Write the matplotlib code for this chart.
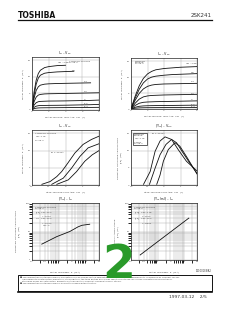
import numpy as np
import matplotlib
matplotlib.use("Agg")
import matplotlib.pyplot as plt

# ---- data ----
# ID - VDS (left, high gm rank)
vds_a = [0, 0.25, 0.5, 0.75, 1, 1.5, 2, 3, 4, 5, 6, 7, 8]
id_a = {
    "V$_{GS}$=0.8V": [0, 5.5, 9.0, 11.0, 12.0, 12.8, 13.1, 13.4, 13.5],
    "0.6": [0, 4.5, 7.8, 9.6, 10.5, 11.1, 11.3, 11.5, 11.6, 11.7],
    "0.4": [0, 3.6, 5.9, 7.0, 7.5, 7.8, 7.9, 8.0, 8.05, 8.1, 8.15, 8.2],
    "0.2": [0, 2.5, 3.9, 4.5, 4.7, 4.85, 4.9, 4.95, 5.0, 5.05, 5.1, 5.15, 5.2],
    "0": [0, 1.5, 2.2, 2.5, 2.6, 2.65, 2.7, 2.72, 2.75, 2.8, 2.85, 2.9, 3.0],
    "-0.2": [0, 0.8, 1.15, 1.3, 1.35, 1.38, 1.4, 1.42, 1.45, 1.5, 1.55, 1.6, 1.7],
    "-0.4": [0, 0.4, 0.55, 0.62, 0.65, 0.67, 0.68, 0.7, 0.72, 0.74, 0.76, 0.78, 0.8],
}
lab_a = [(3.0, 14.0), (4.7, 11.9), (6.2, 8.6), (6.2, 5.6), (6.2, 3.3), (6.2, 1.9), (6.2, 1.0)]

# ID - VDS (right, low gm rank)
vds_b = [0, 0.5, 1, 1.5, 2, 2.5, 3, 4, 5, 6, 7, 8]
id_b = {
    "V$_{GS}$=0.8V": [0, 4.0, 7.3, 9.6, 11.0, 11.8, 12.3, 12.7, 12.9, 13.1, 13.2, 13.3],
    "0.6": [0, 3.4, 6.2, 8.2, 9.4, 10.0, 10.3, 10.6, 10.8, 10.9, 11.0, 11.1],
    "0.4": [0, 2.7, 4.9, 6.3, 7.1, 7.5, 7.7, 7.85, 7.9, 7.95, 8.0, 8.05],
    "0.2": [0, 1.8, 3.1, 3.8, 4.1, 4.25, 4.3, 4.4, 4.45, 4.5, 4.55, 4.6],
    "0": [0, 1.1, 1.8, 2.1, 2.2, 2.25, 2.3, 2.35, 2.4, 2.45, 2.5, 2.55],
    "-0.2": [0, 0.55, 0.85, 0.97, 1.02, 1.05, 1.07, 1.1, 1.12, 1.15, 1.18, 1.2],
    "-0.4": [0, 0.25, 0.35, 0.39, 0.41, 0.42, 0.43, 0.44, 0.45, 0.46, 0.47, 0.48],
}
lab_b = [(6.6, 13.9), (7.2, 11.6), (7.2, 8.5), (7.2, 5.0), (7.2, 2.9), (7.2, 1.5), (7.2, 0.8)]

# ID - VGS
vgs_c = [
    [-1.41, -0.92, -0.52, -0.23, 0.07, 0.56, 1.05, 1.55, 2.0],
    [-0.82, -0.13, 0.36, 0.86, 1.35, 2.0],
    [-0.52, 0.17, 0.66, 1.15, 1.6, 2.0],
]
id_c = [
    [0.2, 1.0, 2.45, 3.9, 5.9, 9.3, 11.8, 13.25, 14.2],
    [0.2, 2.0, 4.9, 8.3, 10.8, 12.0],
    [0.2, 1.5, 3.9, 6.9, 8.8, 10.0],
]

# |Yfs| - VGS
vgs_d = [
    [-1.24, -0.84, -0.54, -0.24, 0.06, 0.46, 0.86, 1.36, 2.0],
    [-0.88, -0.54, -0.24, 0.12, 0.46, 0.76, 1.16, 1.56, 2.0],
    [-0.44, -0.24, -0.04, 0.26, 0.66, 0.96, 1.36, 2.0],
]
yfs_d = [
    [0.2, 3.9, 9.8, 12.8, 14.0, 13.25, 10.3, 6.9, 4.1],
    [0.2, 4.9, 8.8, 11.8, 13.25, 12.3, 9.3, 6.4, 3.4],
    [0.2, 2.9, 6.9, 10.3, 12.3, 11.3, 8.3, 3.2],
]

# |Yfs| - ID (log-log)
id_e = [0.23, 0.82, 2.5, 5.0, 7.0, 13.6]
yfs_e = [3.6, 6.6, 10.0, 14.5, 16.5, 18.0]

# |Yos| - ID (log-log)
id_f = [0.22, 14.8]
yos_f = [1.5, 29.5]

W, H = 240, 310
fig = plt.figure(figsize=(W / 100, H / 100), dpi=100)
fig.patch.set_facecolor("white")

FS = 1.7
INK = "#222222"


def ax_at(l, t, r, b):
    ax = fig.add_axes([l / W, 1 - b / H, (r - l) / W, (b - t) / H])
    for s in ax.spines.values():
        s.set_linewidth(0.5)
        s.set_color(INK)
    ax.tick_params(length=0, labelsize=FS, pad=1.0, colors="#555555")
    ax.grid(True, which="both", color="#a8a8a8", lw=0.3)
    ax.set_axisbelow(True)
    return ax


def titles(ax, title, xl, yl):
    ax.set_title(title, fontsize=2.4, pad=1.2, color=INK)
    ax.set_xlabel(xl, fontsize=FS, labelpad=1.0, color="#444444")
    ax.set_ylabel(yl, fontsize=FS, labelpad=1.0, color="#444444",
                  linespacing=1.1)


def note(ax, x, y, lines, frame=False):
    t = ax.text(x, y, "\n".join(lines), fontsize=1.6, va="top", ha="left",
                color="#444444", linespacing=1.15, transform=ax.transAxes)
    if frame:
        t.set_bbox(dict(facecolor="white", edgecolor=INK, lw=0.5, pad=0.6))


# header
fig.text(18 / W, 1 - 15 / H, "TOSHIBA", fontsize=5.5, fontweight="bold",
         va="center", ha="left", color="#111111")
fig.text(212 / W, 1 - 15.5 / H, "2SK241", fontsize=4, va="center", ha="right",
         color="#333333")
fig.add_artist(plt.Line2D([18 / W, 212 / W], [1 - 19.5 / H, 1 - 19.5 / H],
                          lw=0.9, color="#111111"))

# plot 1
ax = ax_at(32, 57, 99, 110)
for (name, ys), (lx, ly) in zip(id_a.items(), lab_a):
    ax.plot(vds_a[:len(ys)], ys, color="#111111", lw=0.6)
    ax.text(lx, ly, name, fontsize=FS, color="#444444", va="center")
ax.set_xlim(0, 8)
ax.set_ylim(0, 16)
ax.set_xticks([0, 2, 4, 6, 8])
ax.set_yticks([0, 5, 10, 15])
titles(ax, "I$_D$ – V$_{DS}$", "DRAIN-SOURCE VOLTAGE  V$_{DS}$  (V)",
       "DRAIN CURRENT  I$_D$  (mA)")
note(ax, 0.55, 0.93, ["COMMON SOURCE", "Ta=25°C"])

# plot 2
ax = ax_at(131, 58, 197, 109)
for (name, ys), (lx, ly) in zip(id_b.items(), lab_b):
    ax.plot(vds_b, ys, color="#111111", lw=0.6)
    ax.text(lx, ly, name, fontsize=FS, color="#444444", va="center")
ax.set_xlim(0, 8)
ax.set_ylim(0, 16)
ax.set_xticks([0, 2, 4, 6, 8])
ax.set_yticks([0, 5, 10, 15])
titles(ax, "I$_D$ – V$_{DS}$", "DRAIN-SOURCE VOLTAGE  V$_{DS}$  (V)",
       "DRAIN CURRENT  I$_D$  (mA)")
note(ax, 0.06, 0.94, ["COMMON", "SOURCE", "Ta=25°C"])

# plot 3
ax = ax_at(32, 130, 99, 185)
for xs, ys in zip(vgs_c, id_c):
    ax.plot(xs, ys, color="#111111", lw=0.6)
ax.set_xlim(-2, 2)
ax.set_ylim(0, 16)
ax.set_xticks([-2, -1, 0, 1, 2])
ax.set_yticks([0, 5, 10, 15])
titles(ax, "I$_D$ – V$_{GS}$", "GATE-SOURCE VOLTAGE  V$_{GS}$  (V)",
       "DRAIN CURRENT  I$_D$  (mA)")
note(ax, 0.04, 0.95, ["COMMON SOURCE", "V$_{DS}$=10V", "Ta=25°C"])
ax.text(-0.9, 9.0, "I$_{DSS}$=10mA", fontsize=FS, color="#444444")

# plot 4
ax = ax_at(131, 130, 197, 185)
for xs, ys in zip(vgs_d, yfs_d):
    ax.plot(xs, ys, color="#111111", lw=0.6)
ax.set_xlim(-2, 2)
ax.set_ylim(0, 16)
ax.set_xticks([-2, -1, 0, 1, 2])
ax.set_yticks([0, 5, 10, 15])
titles(ax, "|Y$_{fs}$| – V$_{GS}$", "GATE-SOURCE VOLTAGE  V$_{GS}$  (V)",
       "FORWARD TRANSFER ADMITTANCE\n|Y$_{fs}$|  (mS)")
note(ax, 0.05, 0.93, ["COMMON", "SOURCE", "V$_{DS}$=10V", "f=1kHz", "Ta=25°C"],
     frame=True)
ax.text(-0.8, 14.6, "I$_{DSS}$=10mA", fontsize=FS, color="#444444")

# plot 5
ax = ax_at(32, 203, 99, 260)
ax.plot(id_e, yfs_e, color="#111111", lw=0.6)
ax.set_xscale("log")
ax.set_yscale("log")
ax.set_xlim(0.1, 30)
ax.set_ylim(1, 100)
ax.set_xticks([0.1, 0.3, 1, 3, 10, 30])
ax.set_xticklabels(["0.1", "0.3", "1", "3", "10", "30"])
ax.set_yticks([1, 10, 100])
ax.set_yticklabels(["1", "10", "100"])
ax.yaxis.set_minor_formatter(plt.NullFormatter())
ax.xaxis.set_minor_formatter(plt.NullFormatter())
titles(ax, "|Y$_{fs}$| – I$_D$", "DRAIN CURRENT  I$_D$  (mA)",
       "FORWARD TRANSFER ADMITTANCE\n|Y$_{fs}$|  (mS)")
note(ax, 0.05, 0.93, ["COMMON SOURCE", "Ta=25°C", "|Y$_{fs}$|  V$_{DS}$=10V",
                      "          f=1kHz", "C$_{is}$    V$_{DS}$=10V",
                      "          f=1MHz", "          V$_{GS}$=0"])

# plot 6
ax = ax_at(131, 203, 197, 260)
ax.plot(id_f, yos_f, color="#111111", lw=0.6)
ax.set_xscale("log")
ax.set_yscale("log")
ax.set_xlim(0.1, 30)
ax.set_ylim(1, 100)
ax.set_xticks([0.1, 0.3, 1, 3, 10, 30])
ax.set_xticklabels(["0.1", "0.3", "1", "3", "10", "30"])
ax.set_yticks([1, 10, 100])
ax.set_yticklabels(["1", "10", "100"])
ax.yaxis.set_minor_formatter(plt.NullFormatter())
ax.xaxis.set_minor_formatter(plt.NullFormatter())
titles(ax, "|Y$_{os}$(rs)| – I$_D$", "DRAIN CURRENT  I$_D$  (mA)",
       "OUTPUT ADMITTANCE\n|Y$_{os}$|  (μS)")
note(ax, 0.05, 0.93, ["COMMON SOURCE", "Ta=25°C", "|Y$_{os}$|   V$_{DS}$=10V",
                      "           f=1kHz", "|Y$_{rs}$|   V$_{DS}$=10V",
                      "           f=1MHz"])

# footer
fig.text(212 / W, 1 - 273.5 / H, "961001EBA2", fontsize=1.8, ha="right",
         va="bottom", color="#444444")
box = plt.Rectangle((18 / W, 1 - 291 / H), 194 / W, 16 / H, transform=fig.transFigure,
                    fill=False, lw=0.7, edgecolor="#111111")
fig.add_artist(box)
fig.add_artist(plt.Line2D([18 / W, 212 / W], [1 - 291.5 / H, 1 - 291.5 / H],
                          lw=1.2, color="#111111"))
fig.text(20 / W, 1 - 276.5 / H,
         "■ The information contained herein is presented only as a guide for the "
         "applications of our products. No responsibility is assumed by TOSHIBA for any\n"
         "   infringements of intellectual property or other rights of the third parties "
         "which may result from its use. No license is granted by implication or\n"
         "   otherwise under any intellectual property or other rights of TOSHIBA "
         "CORPORATION or others.\n"
         "■ The information contained herein is subject to change without notice.",
         fontsize=1.5, va="top", ha="left", color="#444444", linespacing=1.4)
fig.text(207 / W, 1 - 297 / H, "1997-03-12    2/5", fontsize=3.2, ha="right",
         va="center", color="#333333")

# green page mark
fig.text(119 / W, 1 - 265 / H, "2", fontsize=34, fontweight="bold", ha="center",
         va="center", color="#2a9a2a")

fig.savefig("out.png", dpi=100)
